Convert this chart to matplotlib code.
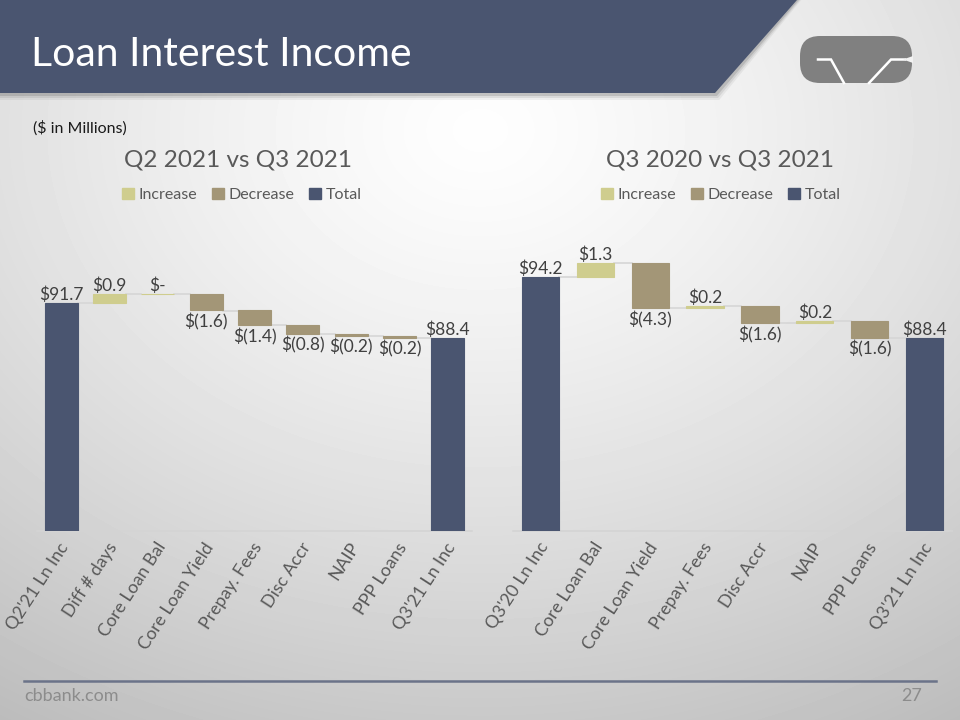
import numpy as np
import matplotlib
matplotlib.use("Agg")
import matplotlib.pyplot as plt
from matplotlib.patches import Polygon, Patch, FancyBboxPatch
from matplotlib.lines import Line2D
from matplotlib.transforms import ScaledTranslation

# ---------------- data ----------------
left_title = "Q2 2021 vs Q3 2021"
left_labels = ["Q2'21 Ln Inc", "Diff # days", "Core Loan Bal", "Core Loan Yield",
               "Prepay. Fees", "Disc Accr", "NAIP", "PPP Loans", "Q3'21 Ln Inc"]
left_values = [91.7, 0.9, 0.0, -1.6, -1.4, -0.8, -0.2, -0.2, 88.4]
left_is_total = [True, False, False, False, False, False, False, False, True]

right_title = "Q3 2020 vs Q3 2021"
right_labels = ["Q3'20 Ln Inc", "Core Loan Bal", "Core Loan Yield", "Prepay. Fees",
                "Disc Accr", "NAIP", "PPP Loans", "Q3'21 Ln Inc"]
right_values = [94.2, 1.3, -4.3, 0.2, -1.6, 0.2, -1.6, 88.4]
right_is_total = [True, False, False, False, False, False, False, True]

legend_labels = ["Increase", "Decrease", "Total"]

# ---------------- style ----------------
FONT = ["Lato", "DejaVu Sans"]
plt.rcParams['font.family'] = FONT
C_INC = "#cfcd8e"
C_DEC = "#a39677"
C_TOT = "#4a5570"
C_HEAD = "#4a5570"
TXT = "#404040"
TXT2 = "#595959"

W, H = 960, 720
fig = plt.figure(figsize=(W / 100, H / 100), dpi=100)

# background axes in pixel coordinates
bg = fig.add_axes([0, 0, 1, 1], zorder=0)
bg.set_xlim(0, W)
bg.set_ylim(H, 0)
bg.axis("off")
yy, xx = np.mgrid[0:H, 0:W]
d = np.sqrt(((xx - 480) / 900.0) ** 2 + ((yy - 130) / 700.0) ** 2)
val = 0.995 - 0.26 * np.clip(d, 0, 1) ** 1.3
bg.imshow(val, cmap="gray", vmin=0, vmax=1, extent=(0, W, H, 0), aspect="auto", zorder=0)

# header band with soft shadow
for k, a in [(7, 0.08), (5, 0.12), (3, 0.2)]:
    bg.add_patch(Polygon([(0, 0), (797 + k * 0.6, 0), (715 + k * 0.6, 93 + k), (0, 93 + k)],
                         closed=True, color="#555555", alpha=a, lw=0, zorder=1))
bg.add_patch(Polygon([(0, 0), (797, 0), (715, 93), (0, 93)], closed=True,
                     color=C_HEAD, lw=0, zorder=2))
bg.text(31, 54, "Loan Interest Income", color="white", fontsize=29.5, va="center",
        ha="left", zorder=3)

# logo
bg.add_patch(FancyBboxPatch((800, 36), 112, 47, boxstyle="round,pad=0,rounding_size=20",
                            color="#808080", lw=0, zorder=2))
bg.add_line(Line2D([818, 831, 844], [59.5, 59.5, 83], color="white", lw=1.8, zorder=3,
                   solid_joinstyle="miter"))
bg.add_line(Line2D([869, 891, 905], [83, 59.5, 59.5], color="white", lw=1.8, zorder=3,
                   solid_joinstyle="miter"))
bg.add_patch(Polygon([(903, 59.5), (913, 56), (913, 63)], color="#f2f2f2", lw=0, zorder=3))

# subtitle
bg.text(33, 128, "($ in Millions)", color="#1a1a1a", fontsize=11.5, va="center", ha="left",
        zorder=3)

# footer
bg.add_line(Line2D([24, 936], [681, 681], color="#6b7389", lw=1.8, zorder=3))
bg.text(24, 696, "cbbank.com", color="#8c8c8c", fontsize=13, va="center", ha="left",
        zorder=3)
bg.text(922, 696, "27", color="#8c8c8c", fontsize=13, va="center", ha="right", zorder=3)


def fmt(v):
    if v == 0:
        return "$-"
    if v < 0:
        return "$(%.1f)" % (-v)
    return "$%.1f" % v


def waterfall(rect, labels, values, is_total, title, title_x, legend_x):
    ax = fig.add_axes(rect, zorder=2)
    ax.patch.set_alpha(0)
    n = len(values)
    x = np.arange(n)
    bottoms, heights, colors, tops_end = [], [], [], []
    running = 0.0
    for i, (v, t) in enumerate(zip(values, is_total)):
        if t:
            bottoms.append(70.0)
            heights.append(v - 70.0)
            colors.append(C_TOT)
            running = v
        else:
            if v >= 0:
                bottoms.append(running)
                heights.append(v)
                colors.append(C_INC)
            else:
                bottoms.append(running + v)
                heights.append(-v)
                colors.append(C_DEC)
            running = running + v
        tops_end.append(running)
    ax.bar(x, heights, bottom=bottoms, width=0.68, color=colors, edgecolor=colors,
           linewidth=0.8, zorder=3)
    # connectors
    for i in range(n - 1):
        ax.plot([x[i] + 0.34, x[i + 1] - 0.34], [tops_end[i], tops_end[i]],
                color="#d6d6d6", lw=1.2, zorder=2)
    # data labels
    for i, (v, t) in enumerate(zip(values, is_total)):
        if t or v >= 0:
            ax.annotate(fmt(v), (x[i], bottoms[i] + heights[i]), xytext=(0, 0),
                        textcoords="offset points", ha="center", va="bottom",
                        fontsize=12.5, color=TXT)
        else:
            ax.annotate(fmt(v), (x[i], bottoms[i]), xytext=(0, -2),
                        textcoords="offset points", ha="center", va="top",
                        fontsize=12.5, color=TXT)
    ax.set_xlim(-0.5, n - 0.5)
    ax.set_ylim(70, 100)
    ax.set_yticks([])
    ax.set_xticks(x)
    ax.set_xticklabels([])
    ax.tick_params(axis="x", length=0)
    # category labels (rotated), placed just under the axis
    off = ScaledTranslation(4 / 100, -13 / 100, fig.dpi_scale_trans)
    for xi, lab in zip(x, labels):
        ax.text(xi, 0, lab, transform=ax.get_xaxis_transform() + off, rotation=57,
                ha="right", va="center", rotation_mode="anchor", fontsize=12.8,
                color=TXT2, clip_on=False)
    for s in ["top", "right", "left"]:
        ax.spines[s].set_visible(False)
    ax.spines["bottom"].set_color("#d4d4d4")
    ax.spines["bottom"].set_linewidth(1.2)
    fig.text(title_x / W, 1 - 160 / H, title, ha="center", va="center", fontsize=17.5,
             color=TXT2)
    handles = [Patch(color=C_INC), Patch(color=C_DEC), Patch(color=C_TOT)]
    fig.legend(handles, legend_labels, loc="center", bbox_to_anchor=(legend_x / W, 1 - 195 / H),
               ncol=3, frameon=False, fontsize=11.5, handlelength=0.75, handleheight=0.75,
               handletextpad=0.3, columnspacing=0.9, labelcolor=TXT2)
    return ax


waterfall([37 / W, 189 / H, 435 / W, 315 / H], left_labels, left_values, left_is_total,
          left_title, 238, 242)
waterfall([513 / W, 189 / H, 439 / W, 315 / H], right_labels, right_values, right_is_total,
          right_title, 720, 721)

fig.savefig("out.png", dpi=100)
